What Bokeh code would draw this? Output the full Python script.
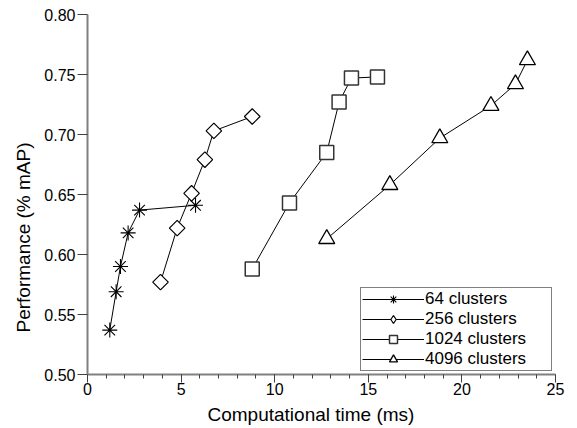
import math
from bokeh.plotting import figure
from bokeh.models import (SingleIntervalTicker, PrintfTickFormatter, Range1d,
                          Legend, LegendItem, Title)
from bokeh.embed import file_html
from bokeh.resources import INLINE

# ---- data ----
time_64 = [1.19, 1.53, 1.76, 2.17, 2.78, 5.77]
map_64 = [0.537, 0.569, 0.590, 0.618, 0.637, 0.641]

time_256 = [3.90, 4.79, 5.56, 6.27, 6.75, 8.80]
map_256 = [0.577, 0.622, 0.651, 0.679, 0.703, 0.715]

time_1024 = [8.80, 10.79, 12.78, 13.44, 14.10, 15.49]
map_1024 = [0.588, 0.643, 0.685, 0.727, 0.747, 0.748]

time_4096 = [12.78, 16.15, 18.82, 21.55, 22.86, 23.50]
map_4096 = [0.613, 0.658, 0.697, 0.724, 0.742, 0.762]

labels = ["64 clusters", "256 clusters", "1024 clusters", "4096 clusters"]
x_title = "Computational time (ms)"
y_title = "Performance (% mAP)"

FONT = "Liberation Sans"

p = figure(width=577, height=428, output_backend="svg", toolbar_location=None,
           x_range=Range1d(0, 25), y_range=Range1d(0.50, 0.80),
           min_border_left=87, min_border_top=14, min_border_right=22,
           min_border_bottom=53)
p.background_fill_color = "white"
p.border_fill_color = "white"
p.outline_line_color = None
p.xgrid.visible = False
p.ygrid.visible = False

# axes
p.xaxis.ticker = SingleIntervalTicker(interval=5, num_minor_ticks=5)
p.yaxis.ticker = SingleIntervalTicker(interval=0.05, num_minor_ticks=0)
p.yaxis.formatter = PrintfTickFormatter(format="%.2f")
for ax in (p.xaxis, p.yaxis):
    ax.axis_line_color = "#808080"
    ax.axis_line_width = 2
    ax.major_tick_line_color = "#404040"
    ax.minor_tick_line_color = "#404040"
    ax.major_tick_in = 0
    ax.minor_tick_in = 0
    ax.major_label_text_font = FONT
    ax.major_label_text_font_size = "16px"
    ax.major_label_text_color = "black"
p.xaxis.major_tick_out = 8
p.xaxis.minor_tick_out = 4
p.xaxis.major_label_standoff = 0
p.yaxis.major_tick_out = 10
p.yaxis.minor_tick_out = 0
p.yaxis.major_label_standoff = 2

# axis titles as side titles (so their position along the axis can be set)
xt = Title(text=x_title, align="left", offset=120, standoff=8,
           text_font=FONT, text_font_size="19px", text_font_style="normal",
           text_color="black")
yt = Title(text=y_title, align="left", offset=42, standoff=15,
           text_font=FONT, text_font_size="19px", text_font_style="normal",
           text_color="black")
p.add_layout(xt, "below")
p.add_layout(yt, "left")

# series
l1 = p.line(time_64, map_64, line_color="black", line_width=1)
s1 = p.scatter(time_64, map_64, marker="asterisk", size=15, line_color="black", line_width=1.1)

l2 = p.line(time_256, map_256, line_color="black", line_width=1)
# legend sample (narrow diamond) sits hidden under the rotated squares
s2_leg = p.scatter(time_256, map_256, marker="diamond", size=12,
                   fill_color="white", line_color="black", line_width=1.2)
s2 = p.scatter(time_256, map_256, marker="square", angle=math.pi / 4, size=11,
               fill_color="white", line_color="black", line_width=1.2)

l3 = p.line(time_1024, map_1024, line_color="black", line_width=1)
s3 = p.scatter(time_1024, map_1024, marker="square", size=14,
               fill_color="white", line_color="#333333", line_width=1.5)

l4 = p.line(time_4096, map_4096, line_color="black", line_width=1)
s4 = p.scatter(time_4096, map_4096, marker="triangle", size=16,
               fill_color="white", line_color="black", line_width=1.3)

legend = Legend(items=[
    LegendItem(label=labels[0], renderers=[l1, s1]),
    LegendItem(label=labels[1], renderers=[l2, s2_leg]),
    LegendItem(label=labels[2], renderers=[l3, s3]),
    LegendItem(label=labels[3], renderers=[l4, s4]),
], location="bottom_right")
legend.margin = 3
legend.padding = 1
legend.spacing = 0
legend.glyph_width = 62
legend.glyph_height = 20
legend.label_height = 20
legend.label_width = 125
legend.label_standoff = 1
legend.label_text_font = FONT
legend.label_text_font_size = "17px"
legend.label_text_color = "black"
legend.border_line_color = "black"
legend.border_line_width = 1.5
legend.background_fill_color = "white"
legend.background_fill_alpha = 1
p.add_layout(legend, "center")

open("out.html", "w").write(file_html(p, INLINE))
